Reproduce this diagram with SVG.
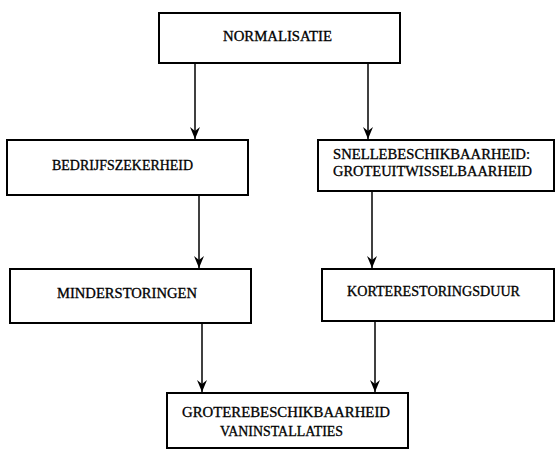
<svg xmlns="http://www.w3.org/2000/svg" width="557" height="449" viewBox="0 0 557 449">
<style>
.box{fill:#fff;stroke:#000;stroke-width:2}
.t{font-family:"Liberation Serif","Times New Roman",serif;font-size:14px;fill:#000;stroke:#000;stroke-width:0.3}
.c{stroke:#000;stroke-width:1.5;fill:none}
</style>
<defs>
<marker id="ah" viewBox="0 0 12 10" refX="12" refY="5" markerWidth="12" markerHeight="10" markerUnits="userSpaceOnUse" orient="auto">
<path d="M0,0 L4,5 L0,10 L12,5 Z" fill="#000"/>
</marker>
</defs>
<rect width="557" height="449" fill="#fff"/>
<g id="connectors">
<line class="c" x1="195" y1="63" x2="195" y2="139" marker-end="url(#ah)"/>
<line class="c" x1="368" y1="63" x2="368" y2="139" marker-end="url(#ah)"/>
<line class="c" x1="199" y1="195" x2="199" y2="268" marker-end="url(#ah)"/>
<line class="c" x1="372" y1="191" x2="372" y2="268" marker-end="url(#ah)"/>
<line class="c" x1="202" y1="323" x2="202" y2="392" marker-end="url(#ah)"/>
<line class="c" x1="375" y1="321" x2="375" y2="392" marker-end="url(#ah)"/>
</g>
<g id="normalisatie">
<rect class="box" x="159" y="13" width="241" height="50"/>
<text class="t" x="223" y="41" textLength="109" lengthAdjust="spacingAndGlyphs">NORMALISATIE</text>
</g>
<g id="bedrijfszekerheid">
<rect class="box" x="7" y="140" width="241" height="55"/>
<text class="t" x="52" y="170" textLength="141" lengthAdjust="spacingAndGlyphs">BEDRIJFSZEKERHEID</text>
</g>
<g id="snelle">
<rect class="box" x="318" y="140" width="236" height="51"/>
<text class="t" x="333" y="159" textLength="197" lengthAdjust="spacingAndGlyphs">SNELLEBESCHIKBAARHEID:</text>
<text class="t" x="333" y="176" textLength="199" lengthAdjust="spacingAndGlyphs">GROTEUITWISSELBAARHEID</text>
</g>
<g id="minderstoringen">
<rect class="box" x="10" y="269" width="241" height="54"/>
<text class="t" x="57" y="298" textLength="140" lengthAdjust="spacingAndGlyphs">MINDERSTORINGEN</text>
</g>
<g id="korterestoringsduur">
<rect class="box" x="322" y="269" width="232" height="52"/>
<text class="t" x="347" y="296" textLength="173" lengthAdjust="spacingAndGlyphs">KORTERESTORINGSDUUR</text>
</g>
<g id="groterebeschikbaarheid">
<rect class="box" x="167" y="393" width="241" height="55"/>
<text class="t" x="182" y="417" textLength="208" lengthAdjust="spacingAndGlyphs">GROTEREBESCHIKBAARHEID</text>
<text class="t" x="220" y="436" textLength="123" lengthAdjust="spacingAndGlyphs">VANINSTALLATIES</text>
</g>
</svg>
